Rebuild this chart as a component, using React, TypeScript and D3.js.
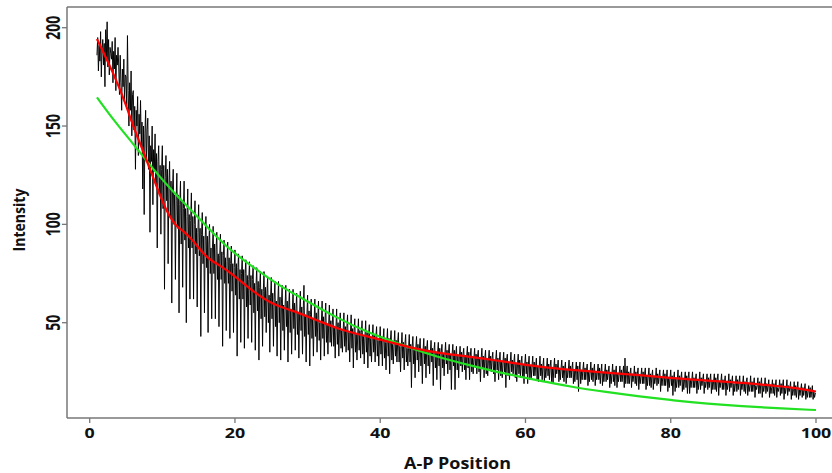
import React from 'react';
import * as d3 from 'd3';

const xTicks = [0, 20, 40, 60, 80, 100];
const yTicks = [50, 100, 150, 200];

// smoothed (red) curve
const redX = [1, 3.5, 4.9, 6, 7.3, 8.7, 10.6, 12, 12.8, 14.2, 16.1, 17.9, 19.8, 22.5, 25.3, 27.6, 28.9, 31.8, 34.6, 38.4, 41.2, 44.5, 47.7, 52.4, 57.1, 61.7, 66.4, 71.1, 75.7, 80.4, 85.1, 89.8, 94.5, 96.8, 100];
const redY = [194.3, 175, 161.8, 149.6, 137.9, 124.1, 105.8, 98.7, 97, 92.1, 82.7, 79.3, 74.3, 65.8, 59, 56.5, 54.8, 50.5, 46.3, 42.9, 40.3, 37, 34.7, 32.7, 30.2, 27.6, 25.9, 24.6, 23.4, 21.7, 20.5, 19.5, 17.8, 17.1, 15];

// fitted (green) curve
const greenX = [1, 3.4, 6.1, 8.8, 11.5, 14.3, 17.5, 19.8, 23.4, 27.1, 28.9, 33.7, 38.4, 43.1, 47.7, 52.4, 57.1, 61.7, 66.4, 71.1, 75.7, 80.4, 85.1, 89.8, 94.5, 100];
const greenY = [164.6, 152.5, 140.5, 127.7, 116.5, 106, 93.5, 85.5, 75.8, 66.6, 63.2, 53, 44.8, 38.7, 32.7, 28.3, 24.1, 20.6, 17.3, 14.8, 12.5, 10.5, 8.8, 7.5, 6.5, 5.6];

// raw intensity trace (black), sampled every 0.1 from x = 1
const blackStart = 1;
const blackStep = 0.1;
const blackValues = [
  186, 195, 178, 191, 183, 198, 175, 189, 194, 181,
  192, 170, 199, 185, 203, 180, 194, 176, 190, 187,
  184, 193, 172, 188, 179, 195, 168, 186, 181, 190,
  180, 166, 186, 172, 158, 179, 170, 184, 162, 176,
  175, 160, 196, 168, 150, 172, 158, 178, 145, 166,
  168, 148, 160, 128, 158, 150, 165, 135, 156, 146,
  163, 140, 152, 118, 150, 105, 146, 158, 132, 148,
  154, 128, 145, 96, 140, 132, 150, 110, 138, 128,
  146, 120, 136, 88, 132, 140, 115, 130, 95, 128,
  140, 108, 130, 67, 124, 135, 112, 128, 80, 120,
  132, 104, 122, 60, 118, 128, 100, 115, 72, 112,
  126, 98, 115, 55, 110, 122, 90, 112, 68, 108,
  122, 92, 108, 50, 104, 118, 88, 105, 62, 102,
  116, 88, 104, 62, 100, 112, 85, 98, 58, 96,
  110, 84, 98, 43, 95, 106, 80, 94, 55, 92,
  104, 78, 94, 45, 90, 100, 75, 88, 52, 88,
  99, 75, 90, 52, 87, 96, 72, 85, 48, 84,
  95, 72, 86, 38, 84, 92, 70, 83, 46, 81,
  91, 70, 83, 42, 80, 89, 66, 80, 45, 78,
  87, 64, 80, 33, 78, 85, 62, 77, 40, 75,
  84, 62, 77, 37, 75, 82, 58, 74, 42, 72,
  81, 59, 74, 40, 72, 79, 55, 70, 36, 69,
  78, 56, 71, 31, 68, 76, 52, 67, 38, 66,
  76, 53, 68, 45, 65, 73, 50, 64, 35, 63,
  73, 52, 65, 38, 62, 71, 48, 61, 33, 60,
  71, 50, 63, 31, 60, 69, 46, 59, 36, 58,
  69, 48, 61, 30, 58, 67, 45, 57, 34, 56,
  67, 47, 60, 36, 57, 65, 44, 55, 32, 55,
  66, 46, 58, 34, 56, 69, 43, 54, 30, 53,
  64, 44, 56, 28, 54, 62, 42, 52, 33, 51,
  62, 43, 55, 35, 52, 61, 41, 50, 31, 50,
  61, 42, 53, 33, 51, 60, 40, 49, 34, 49,
  59, 40, 51, 38, 49, 57, 38, 48, 32, 47,
  57, 39, 50, 33, 48, 55, 37, 46, 35, 46,
  55, 38, 48, 35, 47, 54, 36, 45, 30, 45,
  54, 37, 47, 27, 46, 52, 35, 44, 31, 44,
  52, 36, 46, 32, 45, 51, 34, 43, 29, 43,
  51, 35, 45, 27, 44, 49, 33, 42, 30, 42,
  49, 35, 44, 30, 43, 48, 33, 41, 28, 41,
  48, 34, 43, 28, 42, 47, 32, 40, 26, 40,
  47, 33, 42, 24, 41, 46, 31, 39, 29, 39,
  46, 33, 41, 30, 40, 45, 30, 38, 25, 38,
  45, 32, 40, 26, 39, 44, 30, 37, 28, 37,
  44, 30, 39, 17, 38, 43, 29, 36, 22, 37,
  43, 31, 39, 25, 37, 42, 28, 36, 19, 36,
  42, 29, 38, 22, 37, 41, 28, 35, 24, 35,
  41, 30, 37, 18, 36, 40, 27, 35, 21, 35,
  40, 28, 37, 16, 35, 39, 27, 34, 23, 34,
  40, 29, 36, 24, 35, 39, 26, 34, 16, 34,
  39, 28, 36, 16, 34, 38, 26, 33, 22, 33,
  38, 28, 35, 25, 34, 37, 26, 33, 21, 33,
  38, 27, 35, 21, 33, 37, 25, 32, 24, 32,
  37, 27, 34, 24, 33, 36, 25, 32, 20, 32,
  37, 27, 33, 22, 32, 36, 24, 31, 23, 31,
  36, 26, 33, 25, 32, 35, 24, 31, 20, 31,
  36, 26, 32, 21, 31, 35, 23, 30, 22, 30,
  35, 25, 32, 17, 31, 34, 23, 30, 21, 30,
  35, 25, 31, 24, 30, 34, 22, 29, 20, 29,
  34, 24, 31, 22, 30, 33, 22, 29, 19, 29,
  34, 24, 30, 19, 29, 33, 21, 28, 22, 28,
  33, 23, 30, 23, 28, 32, 21, 28, 20, 28,
  33, 23, 29, 21, 28, 32, 20, 27, 22, 27,
  32, 23, 29, 21, 28, 31, 20, 27, 19, 27,
  32, 22, 29, 24, 27, 31, 20, 27, 21, 27,
  31, 22, 28, 20, 27, 30, 19, 26, 22, 26,
  31, 22, 28, 22, 27, 30, 19, 26, 20, 26,
  30, 21, 28, 15, 26, 30, 19, 26, 21, 26,
  30, 21, 27, 21, 26, 29, 18, 25, 20, 25,
  30, 21, 27, 20, 26, 29, 18, 25, 21, 25,
  29, 21, 27, 19, 25, 29, 18, 25, 20, 25,
  29, 20, 26, 21, 25, 28, 17, 24, 19, 24,
  29, 20, 26, 18, 25, 28, 17, 24, 20, 24,
  28, 20, 26, 20, 24, 28, 17, 32, 19, 24,
  28, 19, 25, 19, 24, 27, 17, 24, 20, 23,
  28, 19, 25, 18, 24, 27, 16, 23, 19, 23,
  27, 19, 25, 19, 24, 27, 16, 23, 18, 23,
  27, 18, 24, 17, 23, 26, 16, 23, 19, 22,
  27, 18, 24, 19, 23, 26, 15, 22, 18, 22,
  26, 18, 24, 18, 22, 26, 15, 22, 17, 22,
  26, 18, 23, 13, 22, 25, 15, 22, 17, 21,
  26, 17, 23, 18, 22, 25, 15, 21, 16, 21,
  25, 17, 23, 14, 22, 25, 14, 21, 17, 21,
  25, 17, 22, 17, 21, 24, 14, 21, 16, 20,
  25, 16, 22, 18, 21, 24, 14, 20, 17, 20,
  24, 16, 22, 17, 21, 24, 14, 20, 16, 20,
  24, 16, 22, 15, 21, 24, 13, 20, 17, 20,
  24, 16, 21, 16, 20, 23, 13, 20, 16, 19,
  24, 15, 21, 17, 20, 23, 13, 19, 15, 19,
  23, 15, 21, 16, 20, 23, 13, 19, 16, 19,
  23, 15, 20, 14, 20, 22, 13, 19, 15, 18,
  23, 15, 20, 15, 19, 22, 12, 18, 16, 18,
  22, 14, 20, 14, 19, 22, 12, 18, 15, 18,
  22, 14, 19, 15, 18, 21, 12, 18, 14, 17,
  21, 14, 19, 13, 18, 21, 12, 17, 15, 17,
  21, 13, 19, 14, 18, 21, 11, 17, 14, 17,
  21, 13, 18, 15, 17, 20, 11, 17, 13, 16,
  20, 13, 18, 12, 17, 20, 11, 16, 13, 16,
  19, 12, 17, 13, 16, 19, 11, 16, 12, 15,
  18, 12, 17, 12, 15, 18, 11, 15, 12, 14,
  14,
];

const W = 832;
const H = 473;
const left = 67;
const right = 832;
const top = 7;
const bottom = 418;
const font = "'Open Sans', 'DejaVu Sans', sans-serif";
const axisColor = '#777777';

export default function App() {
  const x = d3.scaleLinear().domain([0, 100]).range([89.7, 816]);
  const y = d3.scaleLinear().domain([50, 200]).range([322.7, 27.7]);

  const rawLine = d3
    .line<number>()
    .x((_, i) => x(blackStart + i * blackStep))
    .y((d) => y(d));

  const smoothLine = d3
    .line<[number, number]>()
    .x((d) => x(d[0]))
    .y((d) => y(d[1]))
    .curve(d3.curveBasis);

  const redPts: [number, number][] = redX.map((v, i) => [v, redY[i]]);
  const greenPts: [number, number][] = greenX.map((v, i) => [v, greenY[i]]);

  return (
    <div style={{ position: 'absolute', left: 0, top: 0 }}>
      <svg width={W} height={H} style={{ display: 'block', background: '#fff' }}>
        <rect x={0} y={0} width={W} height={H} fill="#fff" />
        {/* black raw trace */}
        <path d={rawLine(blackValues) || ''} fill="none" stroke="#000" strokeWidth={0.95} strokeLinejoin="round" />
        {/* green fit */}
        <path d={smoothLine(greenPts) || ''} fill="none" stroke="#22e022" strokeWidth={2.2} />
        {/* red smooth */}
        <path d={smoothLine(redPts) || ''} fill="none" stroke="#ff0000" strokeWidth={2.2} />

        {/* frame */}
        <line x1={left} x2={right} y1={top} y2={top} stroke={axisColor} strokeWidth={1.5} />
        <line x1={left} x2={right} y1={bottom} y2={bottom} stroke={axisColor} strokeWidth={1.5} />
        <line x1={left} x2={left} y1={top} y2={bottom} stroke={axisColor} strokeWidth={1.5} />

        {xTicks.map((t) => (
          <g key={'x' + t}>
            <line x1={x(t)} x2={x(t)} y1={bottom} y2={bottom + 5} stroke={axisColor} strokeWidth={1.3} />
            <text
              x={x(t)}
              y={437.5}
              textAnchor="middle"
              fontFamily={font}
              fontWeight="bold"
              fontSize={14.7}
              fill="#111"
              textLength={String(t).length * 10.2}
              lengthAdjust="spacingAndGlyphs"
            >
              {t}
            </text>
          </g>
        ))}

        {yTicks.map((t) => (
          <g key={'y' + t}>
            <line x1={left - 5} x2={left} y1={y(t)} y2={y(t)} stroke={axisColor} strokeWidth={1.3} />
            <text
              transform={`translate(60, ${y(t)}) rotate(-90)`}
              textAnchor="middle"
              fontFamily={font}
              fontWeight="bold"
              fontSize={19}
              fill="#111"
              textLength={String(t).length * 8}
              lengthAdjust="spacingAndGlyphs"
            >
              {t}
            </text>
          </g>
        ))}

        <text
          transform="translate(25, 220) rotate(-90)"
          textAnchor="middle"
          fontFamily={font}
          fontWeight="bold"
          fontSize={16.5}
          fill="#111"
          textLength={63}
          lengthAdjust="spacingAndGlyphs"
        >
          Intensity
        </text>

        <text
          x={457.5}
          y={469}
          textAnchor="middle"
          fontFamily={font}
          fontWeight="bold"
          fontSize={15.4}
          fill="#111"
          textLength={107}
          lengthAdjust="spacingAndGlyphs"
        >
          A-P Position
        </text>
      </svg>
    </div>
  );
}
